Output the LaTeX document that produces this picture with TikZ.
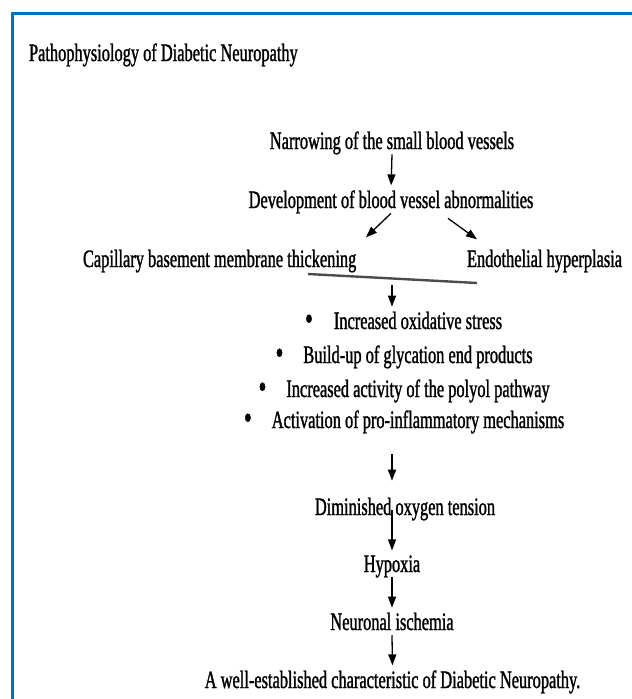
\documentclass[tikz,border=0pt]{standalone}
\usepackage{fontspec}
\setmainfont{Liberation Serif}[FakeStretch=0.655,FakeBold=1.2]
\usetikzlibrary{arrows.meta,calc}
\definecolor{frameblue}{RGB}{0,112,192}
\tikzset{
  txt/.style={anchor=base,inner sep=0pt,outer sep=0pt,font=\fontsize{25}{29}\selectfont},
  dot/.style={txt,anchor=base east,font=\fontsize{34}{29}\selectfont},
  arr/.style={-{Triangle[length=11pt,width=8pt]},line width=1.3pt,shorten >=5pt},
  bar/.style={line width=2.4pt,black!70},
}
\begin{document}
\begin{tikzpicture}[x=1pt,y=-1pt]
\useasboundingbox (0,0) rectangle (632,699);
\fill[white] (0,0) rectangle (632,699);
%frame
\draw[frameblue,line width=2.5pt] (12.7,720) -- (12.7,13.3) -- (660,13.3);

\node[txt,anchor=base west] (title) at (29,61) {Pathophysiology of Diabetic Neuropathy};

\node[txt] (narrow) at (392,149) {Narrowing of the small blood vessels};
\node[txt] (devel) at (391,208) {Development of blood vessel abnormalities};
\node[txt,anchor=base west] (capil) at (83,267) {Capillary basement membrane thickening};
\node[txt,anchor=base west] (endo) at (467,267) {Endothelial hyperplasia};

% list
\node[txt] (ox) at (418,329) {Increased oxidative stress};
\node[txt] (glyc) at (418,363) {Build-up of glycation end products};
\node[txt] (poly) at (418,397) {Increased activity of the polyol pathway};
\node[txt] (act) at (418,428) {Activation of pro-inflammatory mechanisms};
\node[dot] (b1) at ($(ox.base west)+(-21,1)$) {\textbullet};
\node[dot] (b2) at ($(glyc.base west)+(-20,1)$) {\textbullet};
\node[dot] (b3) at ($(poly.base west)+(-20,1)$) {\textbullet};
\node[dot] (b4) at ($(act.base west)+(-20,1)$) {\textbullet};

\node[txt] (dimin) at (405,515) {Diminished oxygen tension};
\node[txt] (hyp) at (392,572) {Hypoxia};
\node[txt] (neur) at (392,630) {Neuronal ischemia};
\node[txt] (well) at (392.5,688) {A well-established characteristic of Diabetic Neuropathy.};

\coordinate (barL) at (308,274);
\coordinate (barR) at (477,283);
\coordinate (barM) at (392,285);
\draw[bar] (barL) -- (barR);

\draw[arr] (narrow.south) -- (devel.north);
\draw[arr,shorten >=0pt] (devel.south) -- ++(-25,24);
\draw[arr,shorten >=0pt] ($(devel.south)+(57,5)$) -- ++(29,21);
\draw[arr] (barM) -- (barM |- ox.north);
\draw[arr] ($(barM |- act.south)+(0,21)$) -- ($(barM |- dimin.north)+(0,-12)$);
\draw[arr] ($(barM |- dimin.south)+(0,-10)$) -- (barM |- hyp.north);
\draw[arr] (hyp.south) -- (neur.north);
\draw[arr] ($(neur.south)+(0,5)$) -- (well.north);
\end{tikzpicture}
\end{document}
